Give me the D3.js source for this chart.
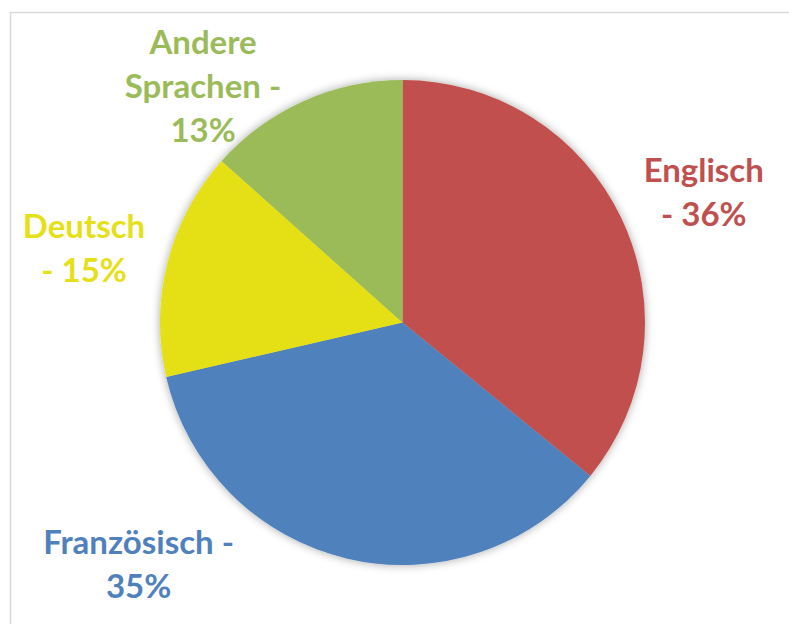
<!DOCTYPE html>
<html>
<head>
<meta charset="utf-8">
<script src="https://cdn.jsdelivr.net/npm/d3@7"></script>
<style>
  body { margin: 0; background: #ffffff; }
  svg { display: block; }
</style>
</head>
<body>
<svg id="pie" width="789" height="624"></svg>
<script>
// data
var languages = ["Englisch", "Französisch", "Deutsch", "Andere Sprachen"];
var shares = [35.9, 35.5, 15.2, 13.4];
var percentLabels = ["36%", "35%", "15%", "13%"];
var labelLines = [
  ["Englisch", "- " + percentLabels[0]],
  ["Französisch -", percentLabels[1]],
  ["Deutsch", "- " + percentLabels[2]],
  ["Andere", "Sprachen -", percentLabels[3]]
];
var colors = ["#C0504D", "#4F81BD", "#E5E017", "#9BBB59"];

var width = 789, height = 624;
var cx = 402.5, cy = 322.5, radius = 242.5;

// where the label blocks sit (angle in degrees clockwise from top, distance from centre)
var labelAngle = [66.7, 227.5, 283.1, 319.8];
var labelDist = [328, 358, 327, 309];

var svg = d3.select("#pie");

// chart area frame (cut off by the window on the right and bottom)
svg.append("rect")
  .attr("x", 10.5)
  .attr("y", 12.5)
  .attr("width", 800)
  .attr("height", 640)
  .attr("fill", "#ffffff")
  .attr("stroke", "#d9d9d9")
  .attr("stroke-width", 1.5);

var defs = svg.append("defs");
var shadow = defs.append("filter")
  .attr("id", "shadow")
  .attr("x", "-20%").attr("y", "-20%")
  .attr("width", "140%").attr("height", "140%");
shadow.append("feGaussianBlur")
  .attr("in", "SourceAlpha")
  .attr("stdDeviation", 5)
  .attr("result", "blur");
shadow.append("feComponentTransfer")
  .attr("in", "blur")
  .attr("result", "faded")
  .append("feFuncA")
  .attr("type", "linear")
  .attr("slope", 0.35);
var merge = shadow.append("feMerge");
merge.append("feMergeNode").attr("in", "faded");
merge.append("feMergeNode").attr("in", "SourceGraphic");

var arcs = d3.pie()
  .sort(null)
  .value(d => d)(shares);

var path = d3.arc()
  .outerRadius(radius)
  .innerRadius(0);

var chart = svg.append("g")
  .attr("transform", "translate(" + cx + "," + cy + ")");

chart.append("g")
  .attr("filter", "url(#shadow)")
  .selectAll(".arc")
  .data(arcs)
  .enter()
  .append("path")
    .classed("arc", true)
    .attr("fill", (d, i) => colors[i])
    .attr("d", path);

// labels
var lineHeight = 44;
var labels = chart.selectAll(".label")
  .data(arcs)
  .enter()
  .append("text")
    .classed("label", true)
    .attr("transform", function(d, i) {
      var a = labelAngle[i] * Math.PI / 180;
      return "translate(" + (Math.sin(a) * labelDist[i]) + "," + (-Math.cos(a) * labelDist[i]) + ")";
    })
    .attr("fill", (d, i) => colors[i])
    .attr("font-family", "Lato, 'Open Sans', sans-serif")
    .attr("font-weight", "bold")
    .attr("font-size", "33px")
    .style("text-anchor", "middle");

labels.each(function(d, i) {
  var lines = labelLines[i];
  d3.select(this).selectAll("tspan")
    .data(lines)
    .enter()
    .append("tspan")
      .attr("x", 0)
      .attr("y", (t, j) => (j - (lines.length - 1) / 2) * lineHeight)
      .attr("dy", "0.35em")
      .text(t => t);
});
</script>
</body>
</html>
